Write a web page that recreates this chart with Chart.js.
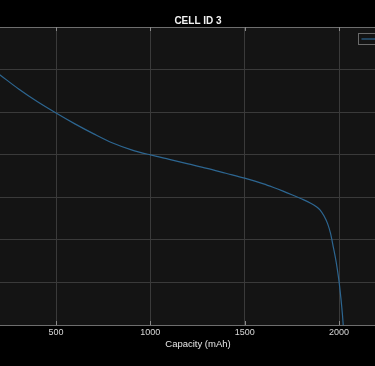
<!DOCTYPE html>
<html>
<head>
<meta charset="utf-8">
<script src="https://cdn.jsdelivr.net/npm/chart.js@4/dist/chart.umd.min.js"></script>
<style>
html,body{margin:0;padding:0;background:#000;overflow:hidden;width:375px;height:366px;}
#wrap{position:absolute;left:0;top:0;width:396px;height:366px;}
</style>
</head>
<body>
<div id="wrap"><canvas id="c" width="396" height="366"></canvas></div>
<script>
// Data
const seriesLabel = 'Cell 3';
const capacity = [150, 203, 300, 400, 500, 600, 700, 800, 900, 1000, 1100, 1200, 1300, 1400, 1500, 1550, 1600, 1650, 1700, 1750, 1800, 1850, 1880, 1900, 1920, 1940, 1955, 1970, 1985, 2000, 2010, 2018, 2024, 2030];
const voltage  = [4.010, 3.975, 3.910, 3.850, 3.796, 3.745, 3.698, 3.655, 3.623, 3.599, 3.578, 3.557, 3.536, 3.513, 3.490, 3.477, 3.463, 3.447, 3.430, 3.412, 3.393, 3.372, 3.356, 3.340, 3.313, 3.275, 3.230, 3.165, 3.095, 3.005, 2.925, 2.850, 2.780, 2.700];
const xTicks = [500, 1000, 1500, 2000];
const yTicks = [2.8, 3.0, 3.2, 3.4, 3.6, 3.8, 4.0, 4.2];

const frame = {
  id: 'frame',
  beforeDraw(chart) {
    const {ctx, chartArea: a} = chart;
    ctx.save();
    ctx.fillStyle = '#141414';
    ctx.fillRect(a.left, a.top, a.right - a.left, a.bottom - a.top);
    ctx.restore();
  },
  afterDraw(chart) {
    const {ctx, chartArea: a, scales} = chart;
    ctx.save();
    ctx.strokeStyle = '#6e6e6e';
    ctx.lineWidth = 1;
    ctx.beginPath();
    ctx.moveTo(a.left, a.top + 0.5); ctx.lineTo(a.right, a.top + 0.5);
    ctx.stroke();
    ctx.strokeStyle = '#8a8a8a';
    xTicks.forEach(v => {
      const x = Math.round(scales.x.getPixelForValue(v)) + 0.5;
      ctx.beginPath();
      ctx.moveTo(x, a.top); ctx.lineTo(x, a.top + 4);
      ctx.moveTo(x, a.bottom); ctx.lineTo(x, a.bottom - 4);
      ctx.stroke();
    });
    ctx.fillStyle = '#f2f2f2';
    ctx.font = 'bold 10px "Liberation Sans", Arial, sans-serif';
    ctx.textAlign = 'center';
    ctx.textBaseline = 'middle';
    ctx.fillText('CELL ID 3', (a.left + a.right) / 2, 21);
    const lx = 358.5, ly = 33.5, lw = 40, lh = 11;
    ctx.fillStyle = '#141414';
    ctx.fillRect(lx, ly, lw, lh);
    ctx.strokeStyle = '#6a6a6a';
    ctx.strokeRect(lx, ly, lw, lh);
    ctx.strokeStyle = '#2d6691';
    ctx.lineWidth = 1.2;
    ctx.beginPath();
    ctx.moveTo(lx + 3, ly + 5.5); ctx.lineTo(lx + 20, ly + 5.5);
    ctx.stroke();
    ctx.restore();
  }
};

new Chart(document.getElementById('c'), {
  type: 'line',
  data: {
    datasets: [{
      label: seriesLabel,
      data: capacity.map((c, i) => ({x: c, y: voltage[i]})),
      borderColor: '#2d6691',
      borderWidth: 1.2,
      pointRadius: 0,
      fill: false,
      cubicInterpolationMode: 'monotone'
    }]
  },
  options: {
    responsive: false,
    animation: false,
    layout: {padding: {top: 27, left: 0, right: 0, bottom: 0}},
    plugins: {legend: {display: false}, title: {display: false}, tooltip: {enabled: false}},
    scales: {
      x: {
        type: 'linear',
        min: 203,
        max: 2302,
        afterBuildTicks: s => { s.ticks = xTicks.map(v => ({value: v})); },
        afterFit: s => { s.height = 41; },
        grid: {color: '#3a3a3a', drawTicks: false},
        border: {color: '#6e6e6e'},
        ticks: {color: '#d8d8d8', padding: 2, callback: v => String(v), font: {family: '"Liberation Sans", Arial, sans-serif', size: 9}},
        title: {display: true, text: 'Capacity (mAh)', color: '#e6e6e6', padding: {top: 0, bottom: 16}, font: {family: '"Liberation Sans", Arial, sans-serif', size: 9.5}}
      },
      y: {
        type: 'linear',
        min: 2.8,
        max: 4.2,
        afterBuildTicks: s => { s.ticks = yTicks.map(v => ({value: v})); },
        afterFit: s => { s.width = 0; },
        grid: {color: '#3a3a3a', drawTicks: false},
        border: {display: false},
        ticks: {display: false}
      }
    }
  },
  plugins: [frame]
});
</script>
</body>
</html>
